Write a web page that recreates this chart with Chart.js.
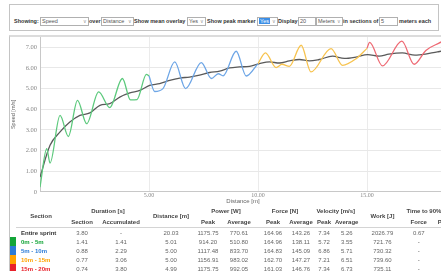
<!DOCTYPE html>
<html>
<head>
<meta charset="utf-8">
<script src="https://cdn.jsdelivr.net/npm/chart.js"></script>
<style>
body { margin:0; width:620px; height:271px; overflow:hidden; background:#fff; font-family:"Liberation Sans", Arial, sans-serif; }
#controls { position:absolute; left:9px; top:4px; width:428px; height:25px; border:1px solid #c4c4c4; }
#controls .lbl { position:absolute; top:12px; font-size:5.5px; font-weight:bold; color:#333; line-height:8px; white-space:nowrap; }
#controls .box { position:absolute; top:12px; height:7px; border:1px solid #b0b0b0; font-size:5.5px; color:#555; line-height:7px; padding-left:1px; box-sizing:content-box; white-space:nowrap; }
#controls .box i { position:absolute; right:1px; top:0; font-style:normal; color:#999; font-size:5px; }
#controls .hl { background:#3b8ee6; color:#fff; padding:0 1px; }
#chartbox { position:absolute; left:9px; top:35px; width:600px; height:260px; border-top:2px solid #dcdcdc; border-left:1px solid #c4c4c4; }
#speedChart { position:absolute; left:0; top:0; }
#stats { position:absolute; left:0; top:168px; border-collapse:collapse; table-layout:fixed; font-size:6px; color:#666; }
#stats th { font-weight:bold; color:#444; padding:0; height:11px; text-align:center; white-space:nowrap; }
#stats tr.sub th { border-bottom:1px solid #d4d4d4; }
#stats td { padding:0; height:9px; text-align:center; white-space:nowrap; }
#stats td.name { text-align:left; padding-left:5px; font-weight:bold; border-left:6px solid transparent; }
</style>
</head>
<body>
<div id="controls">
  <span class="lbl" style="left:4px">Showing:</span>
  <span class="box" style="left:30px;width:46px">Speed<i>&#8744;</i></span>
  <span class="lbl" style="left:79px">over</span>
  <span class="box" style="left:91px;width:30px">Distance<i>&#8744;</i></span>
  <span class="lbl" style="left:124px">Show mean overlay</span>
  <span class="box" style="left:177px;width:16px">Yes<i>&#8744;</i></span>
  <span class="lbl" style="left:197px">Show peak marker</span>
  <span class="box" style="left:247px;width:18px"><span class="hl">Yes</span><i>&#8744;</i></span>
  <span class="lbl" style="left:268px">Display</span>
  <span class="box" style="left:288px;width:15px">20</span>
  <span class="box" style="left:306px;width:24px">Meters<i>&#8744;</i></span>
  <span class="lbl" style="left:333px">in sections of</span>
  <span class="box" style="left:369px;width:16px">5</span>
  <span class="lbl" style="left:389px">meters each</span>
</div>
<div id="chartbox">
  <canvas id="speedChart" width="466" height="170"></canvas>
  <table id="stats">
    <colgroup>
      <col style="width:56px"><col style="width:26px"><col style="width:52px"><col style="width:48px">
      <col style="width:26px"><col style="width:36px"><col style="width:32px"><col style="width:24px">
      <col style="width:22px"><col style="width:22px"><col style="width:48px"><col style="width:22px"><col style="width:28px">
    </colgroup>
    <thead>
      <tr>
        <th rowspan="2" style="border-bottom:1px solid #d4d4d4">Section</th>
        <th colspan="2">Duration [s]</th>
        <th rowspan="2" style="border-bottom:1px solid #d4d4d4">Distance [m]</th>
        <th colspan="2">Power [W]</th>
        <th colspan="2">Force [N]</th>
        <th colspan="2">Velocity [m/s]</th>
        <th rowspan="2" style="border-bottom:1px solid #d4d4d4">Work [J]</th>
        <th colspan="2">Time to 90% of max</th>
      </tr>
      <tr class="sub">
        <th>Section</th><th>Accumulated</th>
        <th>Peak</th><th>Average</th>
        <th>Peak</th><th>Average</th>
        <th>Peak</th><th>Average</th>
        <th>Force</th><th>Power</th>
      </tr>
    </thead>
    <tbody id="statsBody"></tbody>
  </table>
</div>
<script>
// speed trace per 5 m section (distance [m], speed [m/s])
var greenDist  = [0, 0.31, 0.46, 0.92, 1.30, 1.72, 2.14, 2.69, 3.20, 3.78, 4.15, 4.45, 4.88, 5.0];
var greenSpeed = [0.22, 2.09, 1.39, 3.70, 2.68, 4.43, 3.30, 4.84, 4.08, 5.49, 4.45, 4.47, 5.69, 5.62];
var blueDist   = [5.0, 5.26, 5.64, 6.18, 6.68, 7.40, 7.86, 8.18, 8.40, 9.00, 9.46, 10.0];
var blueSpeed  = [5.62, 4.86, 5.0, 6.29, 5.0, 6.26, 5.49, 5.72, 5.62, 6.81, 5.61, 6.21];
var yellowDist  = [10.0, 10.34, 10.83, 11.10, 11.44, 11.98, 12.43, 13.35, 13.88, 14.50, 15.0];
var yellowSpeed = [6.21, 6.73, 6.02, 6.18, 6.08, 7.10, 5.81, 6.94, 6.13, 6.45, 6.95];
var redDist  = [15.0, 15.12, 15.71, 16.60, 17.16, 17.70, 18.30, 18.60, 19.20, 19.75, 20.03];
var redSpeed = [6.95, 7.24, 6.10, 7.30, 6.18, 6.85, 7.20, 7.34, 6.35, 7.00, 6.90];

// mean overlay
var meanDist  = [0, 0.46, 0.92, 1.37, 1.83, 2.29, 2.75, 3.20, 3.66, 4.12, 4.58, 5.03, 5.49, 5.95, 6.41, 6.86, 7.32, 7.78, 8.24, 8.70, 9.15, 9.61, 10.07, 10.53, 10.98, 11.44, 11.90, 12.36, 12.81, 13.42, 13.96, 14.50, 15.03, 15.56, 16.00, 16.62, 17.20, 17.68, 18.23, 18.80, 19.40, 20.03];
var meanSpeed = [0.71, 2.25, 2.90, 3.38, 3.70, 3.82, 4.19, 4.27, 4.59, 4.79, 4.91, 5.16, 5.24, 5.40, 5.51, 5.56, 5.65, 5.78, 5.85, 6.00, 6.05, 6.08, 6.21, 6.29, 6.24, 6.34, 6.41, 6.34, 6.41, 6.57, 6.46, 6.53, 6.65, 6.57, 6.67, 6.73, 6.62, 6.67, 6.78, 6.85, 6.80, 6.90];

var xTicks = [0, 5, 10, 15, 20];

// table
var sectionNames = ['Entire sprint', '0m - 5m', '5m - 10m', '10m - 15m', '15m - 20m'];
var sectionColors = ['transparent', '#13a538', '#2b7bd6', '#ffa200', '#e8202a'];
var sectionText = ['#333', '#13a538', '#2b7bd6', '#ffa200', '#e8202a'];
var durSection = ['3.80', '1.41', '0.88', '0.77', '0.74'];
var durAccum   = ['-', '1.41', '2.29', '3.06', '3.80'];
var distance   = ['20.03', '5.01', '5.00', '5.00', '4.99'];
var powerPeak  = ['1175.75', '914.20', '1117.48', '1156.91', '1175.75'];
var powerAvg   = ['770.61', '510.80', '833.70', '983.02', '992.05'];
var forcePeak  = ['164.96', '164.96', '164.83', '162.70', '161.03'];
var forceAvg   = ['143.26', '138.11', '145.09', '147.27', '146.76'];
var velPeak    = ['7.34', '5.72', '6.86', '7.21', '7.34'];
var velAvg     = ['5.26', '3.55', '5.71', '6.51', '6.73'];
var work       = ['2026.79', '721.76', '730.32', '739.60', '735.11'];
var t90Force   = ['0.67', '-', '-', '-', '-'];
var t90Power   = ['3.29', '-', '-', '-', '-'];

function pts(xs, ys) {
  return xs.map(function (x, i) { return { x: x, y: ys[i] }; });
}

function section(data, color) {
  return { data: data, borderColor: color, borderWidth: 1.3, pointRadius: 0, fill: false, cubicInterpolationMode: 'monotone' };
}

var ctx = document.getElementById('speedChart').getContext('2d');
var speedChart = new Chart(ctx, {
  type: 'line',
  data: {
    datasets: [
      section(pts(greenDist, greenSpeed), '#5cc97c'),
      section(pts(blueDist, blueSpeed), '#6ea6e6'),
      section(pts(yellowDist, yellowSpeed), '#f7c34f'),
      section(pts(redDist, redSpeed), '#ee6a74'),
      section(pts(meanDist, meanSpeed), '#5a5a5a')
    ]
  },
  options: {
    responsive: false,
    animation: false,
    layout: { padding: 0 },
    plugins: {
      legend: { display: false },
      tooltip: { enabled: false },
      title: {
        display: true,
        position: 'bottom',
        text: 'Distance [m]',
        color: '#666',
        font: { size: 6, weight: 'normal', family: 'Liberation Sans' },
        padding: { top: 0, bottom: 2 }
      }
    },
    scales: {
      x: {
        type: 'linear',
        min: 0,
        max: 20,
        afterBuildTicks: function (s) { s.ticks = xTicks.map(function (v) { return { value: v }; }); },
        border: { color: '#c8c8c8' },
        grid: { color: '#ebebeb', drawTicks: false },
        ticks: {
          padding: 0,
          maxRotation: 0,
          color: '#888',
          font: { size: 6, family: 'Liberation Serif' },
          callback: function (v) { return (v === 0 || v === 20) ? '' : v.toFixed(2); }
        },
        afterFit: function (s) { s.height = 6; s.paddingLeft = 0; s.paddingRight = 0; }
      },
      y: {
        min: 0,
        max: 7.5,
        border: { color: '#c8c8c8' },
        grid: { color: '#e8e8e8', drawTicks: false },
        title: { display: true, text: 'Speed [m/s]', color: '#666', font: { size: 5.5, family: 'Liberation Sans' }, padding: 0 },
        ticks: {
          stepSize: 1,
          includeBounds: false,
          padding: 3,
          color: '#888',
          font: { size: 6.5, family: 'Liberation Serif' },
          callback: function (v) { return v === 0 ? '0' : v.toFixed(2); }
        },
        afterFit: function (s) { s.width = 30; s.paddingTop = 0; s.paddingBottom = 0; }
      }
    }
  }
});

// statistics table
var body = document.getElementById('statsBody');
var cols = [durSection, durAccum, distance, powerPeak, powerAvg, forcePeak, forceAvg, velPeak, velAvg, work, t90Force, t90Power];
sectionNames.forEach(function (name, r) {
  var tr = document.createElement('tr');
  var td = document.createElement('td');
  td.className = 'name';
  td.textContent = name;
  td.style.borderLeftColor = sectionColors[r];
  td.style.color = sectionText[r];
  tr.appendChild(td);
  cols.forEach(function (col) {
    var c = document.createElement('td');
    c.textContent = col[r];
    tr.appendChild(c);
  });
  body.appendChild(tr);
});
</script>
</body>
</html>
